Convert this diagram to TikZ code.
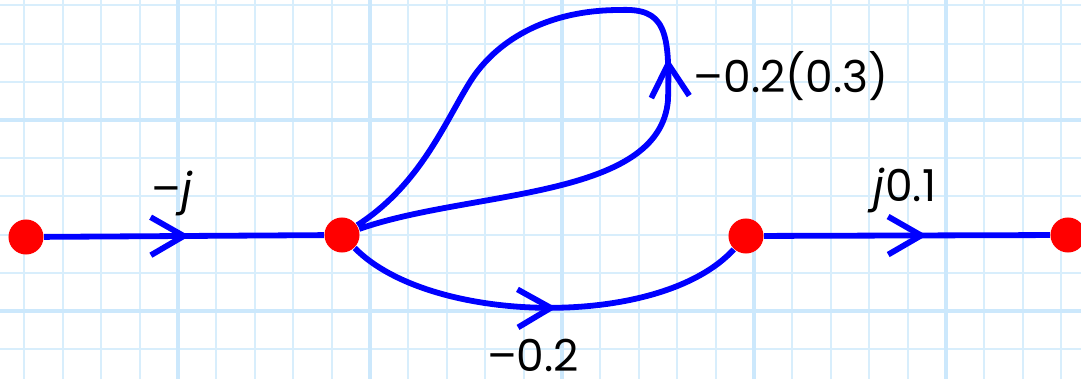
\documentclass[tikz,border=0pt]{standalone}
\usepackage{fontspec}
\newfontfamily\lblfont{Poppins}
\usetikzlibrary{arrows.meta,decorations.markings}
\definecolor{gridminor}{RGB}{216,238,252}
\definecolor{gridmajor}{RGB}{204,232,252}
\tikzset{
  >={Straight Barb[length=3.3mm,width=3.8mm]},
  gridmin/.style={draw=gridminor, line width=0.2mm},
  gridmaj/.style={draw=gridmajor, line width=0.45mm},
  dot/.style={circle,fill=red,inner sep=0pt,minimum size=3.5mm},
  br/.style={blue, line width=0.58mm},
  mid/.style={postaction={decorate,decoration={markings,mark=at position #1 with {\arrow{>}}}}},
  lbl/.style={font=\lblfont\fontsize{12.5}{14}\selectfont, inner sep=0pt}
}
\begin{document}
\begin{tikzpicture}[x=0.01cm,y=-0.01cm]
    \useasboundingbox (0,0) rectangle (1081,379);

    % Grid paper
    \begin{scope}
      \clip (0,0) rectangle (1081,379);
      \foreach \k in {-4,...,23} \draw[gridmin] ({178+38.4*\k},0) -- ({178+38.4*\k},379);
      \foreach \k in {-3,...,6} \draw[gridmin] (0,{120+38.2*\k}) -- (1081,{120+38.2*\k});
      \foreach \k in {0,...,4} \draw[gridmaj] ({178+192*\k},0) -- ({178+192*\k},379);
      \foreach \k in {0,1} \draw[gridmaj] (0,{120+191*\k}) -- (1081,{120+191*\k});
    \end{scope}

    % Nodes
    \node[dot] (n1) at (26,237) {};
    \node[dot] (n2) at (342,235) {};
    \node[dot] (n3) at (746,236) {};
    \node[dot] (n4) at (1068,235) {};

    % Branches
    \draw[br, mid=0.52] (n1) -- (n2);
    \draw[br, mid=0.57] (n3) -- (n4);
    \draw[br, mid=0.53] (n2) .. controls (430,325) and (660,330) .. (n3);

    % Self loop at n2
    \draw[br, mid=3.95cm] (n2) .. controls (470,190) and (660,200) .. (668,100)
      .. controls (670,30) and (665,8) .. (620,10)
      .. controls (545,10) and (495,42) .. (470,82)
      .. controls (445,122) and (420,185) .. (n2);

    % Gains
    \node[lbl] (lj) at (172,193) {–\textit{j}};
    \node[lbl, anchor=west] (lloop) at (693,76) {–0.2(0.3)};
    \node[lbl] (lright) at (905,190) {\textit{j}0.1};
    \node[lbl] (lbot) at (533,355) {–0.2};

\end{tikzpicture}
\end{document}
